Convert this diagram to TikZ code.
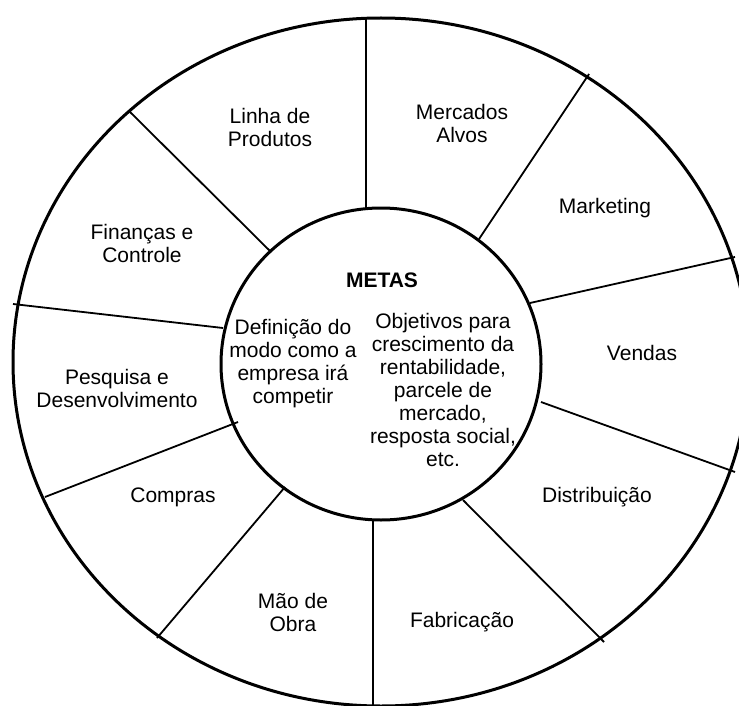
\documentclass[tikz,border=0pt]{standalone}
\usepackage{fontspec}
\setmainfont{Liberation Sans}
\begin{document}
\begin{tikzpicture}[x=1pt,y=-1pt,
  ring/.style={line width=3pt},
  spoke/.style={line width=1.8pt},
  area/.style={align=center, font=\fontsize{21}{23}\selectfont}]
  \useasboundingbox (0,0) rectangle (739,706);
  \clip (0,0) rectangle (739,706);
  % outer wheel and hub
  \draw[ring] (381,362) ellipse [x radius=368, y radius=344];
  \draw[ring] (381,364) ellipse [x radius=160, y radius=156];
  % spokes between the sectors
  \foreach \a/\b in {{(366,18)}/{(366,208)}, {(129,111)}/{(271,252)},
      {(13,304)}/{(223,328)}, {(45,497)}/{(238,422)},
      {(157,638)}/{(285,487)}, {(373,520)}/{(373,706)},
      {(463,500)}/{(604,642)}, {(541,402)}/{(735,472)},
      {(530,303)}/{(735,257)}, {(479,239)}/{(589,74)}}
    \draw[spoke] \a -- \b;
  % sectors
  \node[area] (linha) at (270,127) {Linha de\\Produtos};
  \node[area] (mercados) at (462,123) {Mercados\\Alvos};
  \node[area] (marketing) at (605,208) {Marketing};
  \node[area] (vendas) at (642,353) {Vendas};
  \node[area] (distrib) at (597,497) {Distribuição};
  \node[area] (fabric) at (462,622) {Fabricação};
  \node[area] (maoobra) at (293,612) {Mão de\\Obra};
  \node[area] (compras) at (173,497) {Compras};
  \node[area] (pesquisa) at (117,388) {Pesquisa e\\Desenvolvimento};
  \node[area] (financas) at (142,243) {Finanças e\\Controle};
  % hub
  \node[area, font=\fontsize{21}{23}\selectfont\bfseries] (metas) at (382,280) {METAS};
  \node[area] (modo) at (293,364) {Definição do\\modo como a\\empresa irá\\competir};
  \node[area] (objetivos) at (443,390) {Objetivos para\\crescimento da\\rentabilidade,\\parcele de\\mercado,\\resposta social,\\etc.};
\end{tikzpicture}
\end{document}
